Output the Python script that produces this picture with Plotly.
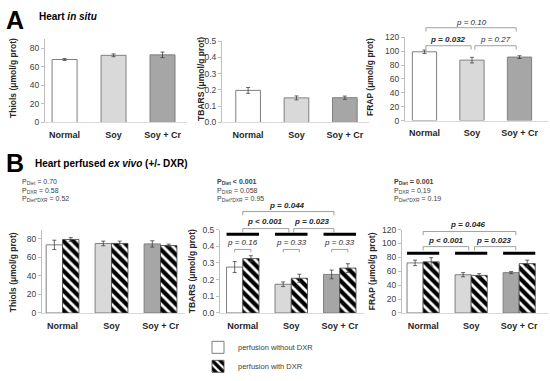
import plotly.graph_objects as go

W, H = 550, 381
FONT = "Liberation Sans, Arial, sans-serif"
DARK = "#262626"

categories = ["Normal", "Soy", "Soy + Cr"]

# Panel A - heart in situ
a_thiols = [68, 72.5, 73]
a_thiols_err = [1.0, 1.5, 3.0]
a_tbars = [0.197, 0.151, 0.152]
a_tbars_err = [0.018, 0.012, 0.010]
a_frap = [99, 87, 91.4]
a_frap_err = [2.5, 4.0, 2.0]

# Panel B - heart perfused ex vivo (without / with DXR)
b_thiols_no = [73.5, 75, 74.5]
b_thiols_no_err = [5, 2.5, 3.4]
b_thiols_dxr = [79.3, 75, 72.8]
b_thiols_dxr_err = [2, 2.5, 1.5]
b_tbars_no = [0.275, 0.172, 0.231]
b_tbars_no_err = [0.033, 0.014, 0.026]
b_tbars_dxr = [0.326, 0.208, 0.269]
b_tbars_dxr_err = [0.017, 0.024, 0.026]
b_frap_no = [72, 55, 58]
b_frap_no_err = [4, 3, 1.5]
b_frap_dxr = [73.5, 54, 71]
b_frap_dxr_err = [6, 2.5, 5]

ytitles = ["Thiols (μmol/g prot)", "TBARS (μmol/g prot)", "FRAP (μmol/g prot)"]
yranges = [[0, 90], [0, 0.5], [0, 120]]
ydticks = [20, 0.1, 20]
ytickfmt = ["", ".1f", ""]
bar_colors = ["#ffffff", "#d9d9d9", "#a6a6a6"]
legend_names = ["perfusion without DXR", "perfusion with DXR"]

def px(x):
    return x / W

def py(y):
    return 1 - y / H

# subplot pixel boxes: x0, x1, top, bottom, x-range
boxes = [
    (45, 187, 36, 124, [-0.4, 2.5]),
    (222, 369, 38, 124, [-0.54, 2.5]),
    (405, 548, 34, 122, [-0.41, 2.6]),
    (42, 185, 237, 325, [-0.42, 2.5]),
    (220, 364, 237, 325, [-0.47, 2.5]),
    (402, 548, 237, 325, [-0.44, 2.6]),
]

fig = go.Figure()
layout = {}
for i, (x0, x1, top, bot, xr) in enumerate(boxes):
    k = i + 1
    j = i % 3
    layout[f"xaxis{k}"] = dict(
        domain=[px(x0), px(x1)], anchor=f"y{k}", range=xr, type="category",
        showline=True, linecolor="#d9d9d9", linewidth=1, ticks="",
        showgrid=False, zeroline=False, ticklabelstandoff=4,
        tickfont=dict(family=FONT, size=9, color=DARK, weight="bold"),
    )
    layout[f"yaxis{k}"] = dict(
        domain=[py(bot), py(top)], anchor=f"x{k}", range=yranges[j], dtick=ydticks[j],
        tickformat=ytickfmt[j], showline=True, linecolor="#bfbfbf", linewidth=1,
        ticks="outside", ticklen=3, tickcolor="#bfbfbf", showgrid=False, zeroline=False,
        tickfont=dict(family=FONT, size=8.5, color="#404040"),
    )

def err(arr):
    return dict(type="data", array=arr, color="#404040", thickness=0.8, width=2)

# Panel A bars
for k, (vals, e) in enumerate([(a_thiols, a_thiols_err), (a_tbars, a_tbars_err), (a_frap, a_frap_err)], start=1):
    fig.add_trace(go.Bar(
        x=categories, y=vals, error_y=err(e), width=0.51, offset=-0.255,
        marker=dict(color=bar_colors, line=dict(color="#7f7f7f", width=1)),
        xaxis=f"x{k}", yaxis=f"y{k}", showlegend=False,
    ))

# Panel B bars
bsets = [
    (b_thiols_no, b_thiols_no_err, b_thiols_dxr, b_thiols_dxr_err),
    (b_tbars_no, b_tbars_no_err, b_tbars_dxr, b_tbars_dxr_err),
    (b_frap_no, b_frap_no_err, b_frap_dxr, b_frap_dxr_err),
]
for idx, (v0, e0, v1, e1) in enumerate(bsets):
    k = idx + 4
    fig.add_trace(go.Bar(
        x=categories, y=v0, error_y=err(e0), width=0.335, offset=-0.335,
        marker=dict(color=bar_colors, line=dict(color="#7f7f7f", width=1)),
        xaxis=f"x{k}", yaxis=f"y{k}", name=legend_names[0], showlegend=(idx == 0),
    ))
    fig.add_trace(go.Bar(
        x=categories, y=v1, error_y=err(e1), width=0.335, offset=0,
        marker=dict(color="#ffffff", line=dict(color="#404040", width=0.8),
                    pattern=dict(shape="\\", fgcolor="#000000", bgcolor="#ffffff",
                                 fgopacity=1, size=7, solidity=0.6)),
        xaxis=f"x{k}", yaxis=f"y{k}", name=legend_names[1], showlegend=(idx == 0),
    ))

annotations = []
shapes = []

def text(x, y, t, size=8, xref="paper", xanchor="center", angle=0, color=DARK):
    annotations.append(dict(
        x=x, y=py(y), xref=xref, yref="paper", text=t, showarrow=False,
        xanchor=xanchor, yanchor="middle", textangle=angle,
        font=dict(family=FONT, size=size, color=color),
    ))

def bracket(xref, xa, xb, y, drop=4, color="#a0a0a0", w=1):
    shapes.append(dict(
        type="path", xref=xref, yref="paper",
        path=f"M {xa},{py(y + drop)} L {xa},{py(y)} L {xb},{py(y)} L {xb},{py(y + drop)}",
        line=dict(color=color, width=w),
    ))

def blackbar(xref, xc, y, half=0.335):
    shapes.append(dict(type="line", xref=xref, yref="paper", x0=xc - half, x1=xc + half,
                       y0=py(y), y1=py(y), line=dict(color="#000000", width=3)))

# Panel letters / headers
text(px(4), 16, "<b>A</b>", size=25, xanchor="left", color="#000000")
text(px(37), 12, "<b>Heart <i>in situ</i></b>", size=10, xanchor="left", color="#000000")
text(px(4), 167, "<b>B</b>", size=25, xanchor="left", color="#000000")
text(px(33), 167, "<b>Heart perfused <i>ex vivo</i> (+/- DXR)</b>", size=10, xanchor="left", color="#000000")

# Y titles
ytpos = [(13, 77), (201, 78), (370, 76), (13, 282), (192, 281), (372, 281)]
for i, (cx, cy) in enumerate(ytpos):
    text(px(cx), cy, f"<b>{ytitles[i % 3]}</b>", size=8.5, angle=-90)

# P statistics (two-way ANOVA)
pstats = [
    (20, ["P<sub>Diet</sub> = 0.70", "P<sub>DXR</sub> = 0.58", "P<sub>Diet*DXR</sub> = 0.52"], False),
    (215, ["P<sub>Diet</sub> < 0.001", "P<sub>DXR</sub> = 0.058", "P<sub>Diet*DXR</sub> = 0.95"], True),
    (392, ["P<sub>Diet</sub> = 0.001", "P<sub>DXR</sub> = 0.19", "P<sub>Diet*DXR</sub> = 0.19"], True),
]
for x0, lines, bold_first in pstats:
    for li, (t, yy) in enumerate(zip(lines, [187, 196, 205])):
        tt = f"<b>{t}</b>" if (li == 0 and bold_first) else t
        text(px(x0), yy, tt, size=7, xanchor="left", color="#404040")

# Panel A FRAP comparisons
bracket("x3", 0.03, 0.98, 43)
bracket("x3", 1.06, 1.93, 43)
bracket("x3", 0.03, 1.93, 24)
text(0.5, 36, "<b><i>p = 0.032</i></b>", xref="x3")
text(1.5, 36, "<i>p = 0.27</i>", xref="x3")
text(0.98, 18, "<i>p = 0.10</i>", xref="x3")

# Panel B TBARS comparisons
bracket("x5", 0.0, 1.88, 218)
text(0.92, 212, "<b><i>p = 0.044</i></b>", xref="x5")
bracket("x5", 0.0, 0.95, 236)
bracket("x5", 1.05, 1.88, 236)
text(0.45, 229, "<b><i>p < 0.001</i></b>", xref="x5")
text(1.42, 229, "<b><i>p = 0.023</i></b>", xref="x5")
for g, pv in enumerate(["0.16", "0.33", "0.33"]):
    blackbar("x5", g, 242)
    bracket("x5", g - 0.167, g + 0.167, 258, drop=3)
    text(g, 251, f"<i>p = {pv}</i>", xref="x5")

# Panel B FRAP comparisons
bracket("x6", 0.0, 1.93, 239)
text(0.93, 232, "<b><i>p = 0.046</i></b>", xref="x6")
bracket("x6", 0.0, 0.95, 255)
bracket("x6", 1.07, 1.93, 255)
text(0.48, 249, "<b><i>p < 0.001</i></b>", xref="x6")
text(1.47, 249, "<b><i>p = 0.023</i></b>", xref="x6")
for g in range(3):
    blackbar("x6", g, 262)

fig.update_layout(
    width=W, height=H, margin=dict(l=0, r=0, t=0, b=0),
    paper_bgcolor="white", plot_bgcolor="white",
    barmode="group", annotations=annotations, shapes=shapes,
    showlegend=True,
    legend=dict(x=px(198), y=py(346), xanchor="left", yanchor="top",
                font=dict(family=FONT, size=7.5, color="#404040"),
                bgcolor="rgba(0,0,0,0)", tracegroupgap=0),
    **layout,
)

fig.write_html("out.html", config={"displayModeBar": False},
               post_script="document.body.style.margin='0';document.body.style.overflow='hidden';")
